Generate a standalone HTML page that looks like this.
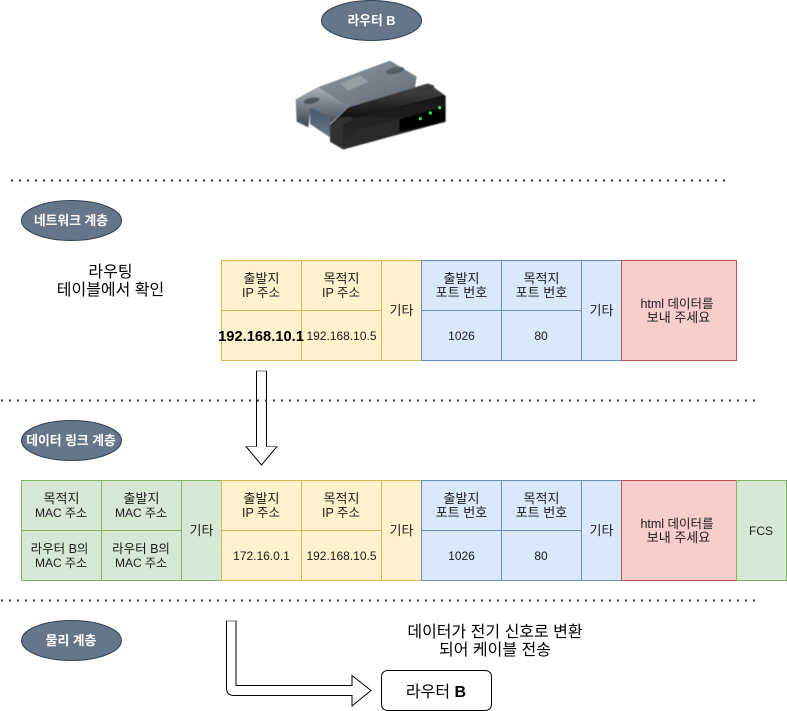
<!DOCTYPE html>
<html><head><meta charset="utf-8">
<style>
html,body{margin:0;padding:0;background:#fff}
svg{display:block}
text{font-family:"Liberation Sans","Noto Sans CJK KR",sans-serif;font-size:12px;fill:#1a1a1a;text-anchor:middle}
.k{font-size:13px}
.m{font-size:12.5px}
.w{fill:#fff;font-weight:bold;font-size:12.8px}
.b{font-size:16px;fill:#000}
</style></head>
<body>
<svg width="787" height="711" viewBox="0 0 787 711" xmlns="http://www.w3.org/2000/svg">
<defs>
<linearGradient id="g1" x1="0" y1="0" x2="1" y2="1"><stop offset="0" stop-color="#8d96a2"/><stop offset="1" stop-color="#646b75"/></linearGradient>
<linearGradient id="g2" x1="0" y1="0" x2="0" y2="1"><stop offset="0" stop-color="#aab0b8"/><stop offset=".4" stop-color="#7d8590"/><stop offset="1" stop-color="#3e444c"/></linearGradient>
<linearGradient id="g3" x1="0" y1="0" x2="0" y2="1"><stop offset="0" stop-color="#4c4c4c"/><stop offset="1" stop-color="#0c0c0c"/></linearGradient>
<linearGradient id="g4" x1="0" y1="0" x2="0" y2="1"><stop offset="0" stop-color="#161616"/><stop offset="1" stop-color="#2e2e2e"/></linearGradient>
<linearGradient id="g5" x1="0" y1="0" x2="0" y2="1"><stop offset="0" stop-color="#46586c"/><stop offset="1" stop-color="#6a7684"/></linearGradient>
<filter id="bl" x="-5%" y="-5%" width="110%" height="110%"><feGaussianBlur stdDeviation="1.5"/></filter>
</defs>

<!-- ellipses -->
<g fill="#647687" stroke="#314354">
<ellipse cx="371.5" cy="20.5" rx="50" ry="20"/>
<ellipse cx="71.5" cy="220.5" rx="50" ry="20"/>
<ellipse cx="71.5" cy="440.5" rx="50" ry="20"/>
<ellipse cx="71.5" cy="640.5" rx="50" ry="20"/>
</g>
<text class="w" x="371.5" y="25">라우터 B</text>
<text class="w" x="71" y="225">네트워크 계층</text>
<text class="w" x="71" y="445">데이터 링크 계층</text>
<text class="w" x="71" y="645">물리 계층</text>

<!-- router -->
<g transform="translate(280 0) scale(.3333)">
<g filter="url(#bl)">
<polygon points="47,298 112,262 205,322 150,372 92,322 85,382 50,365" fill="url(#g2)"/>
<polygon points="90,322 150,352 150,412 90,372" fill="url(#g5)"/>
<ellipse cx="95" cy="302" rx="24" ry="9" fill="#4f565f" transform="rotate(-12 95 302)"/>
<polygon points="113,262 330,182 410,230 405,262 205,322" fill="url(#g1)"/>
<polygon points="180,250 240,226 265,245 205,272" fill="#989ea5"/>
<ellipse cx="345" cy="212" rx="28" ry="10" fill="#565c64" transform="rotate(-12 345 212)"/>
<polygon points="150,375 205,322 445,250 497,288 497,365 190,448 150,425" fill="#141414"/>
<polygon points="205,322 445,250 492,285 190,362" fill="url(#g3)"/>
<polygon points="150,375 190,362 190,448 150,425" fill="#303030"/>
<polygon points="190,362 495,290 497,365 190,448" fill="url(#g4)"/>
<polygon points="225,392 358,358 358,392 225,428" fill="#2c2c2c"/>
<polygon points="358,358 495,320 495,366 358,396" fill="#060606"/>
<ellipse cx="190" cy="362" rx="28" ry="10" fill="#303030" transform="rotate(-12 190 362)"/>
<ellipse cx="435" cy="265" rx="28" ry="10" fill="#383838" transform="rotate(-12 435 265)"/>
</g>
<circle cx="421" cy="356" r="5" fill="#3fdc4a"/>
<circle cx="451" cy="339" r="5" fill="#3fdc4a"/>
<circle cx="479" cy="323" r="5" fill="#3fdc4a"/>
</g>

<text class="b" x="110.5" y="277">라우팅</text>
<text class="b" x="110.5" y="295">테이블에서 확인</text>

<!-- Table 1 -->
<g fill="#fff2cc" stroke="#d6b656">
<rect x="221.5" y="260.5" width="80" height="50"/><rect x="301.5" y="260.5" width="80" height="50"/>
<rect x="221.5" y="310.5" width="80" height="50"/><rect x="301.5" y="310.5" width="80" height="50"/>
<rect x="381.5" y="260.5" width="40" height="100"/>
</g>
<g fill="#dae8fc" stroke="#6c8ebf">
<rect x="421.5" y="260.5" width="80" height="50"/><rect x="501.5" y="260.5" width="80" height="50"/>
<rect x="421.5" y="310.5" width="80" height="50"/><rect x="501.5" y="310.5" width="80" height="50"/>
<rect x="581.5" y="260.5" width="40" height="100"/>
</g>
<rect x="621.5" y="260.5" width="115" height="100" fill="#f8cecc" stroke="#b85450"/>
<text class="k" x="261.5" y="283">출발지</text><text class="m" x="261" y="297">IP 주소</text>
<text class="k" x="341.5" y="283">목적지</text><text class="m" x="341" y="297">IP 주소</text>
<text x="261" y="341" style="font-size:14.7px;font-weight:bold;fill:#000">192.168.10.1</text>
<text x="341.5" y="340">192.168.10.5</text>
<text class="k" x="401.5" y="315">기타</text>
<text class="k" x="461.5" y="283">출발지</text><text class="k" x="461.5" y="297">포트 번호</text>
<text class="k" x="541.5" y="283">목적지</text><text class="k" x="541.5" y="297">포트 번호</text>
<text x="461.5" y="340">1026</text><text x="541" y="340">80</text>
<text class="k" x="601.5" y="315">기타</text>
<text class="m" x="677" y="308">html 데이터를</text><text class="k" x="678.5" y="322">보내 주세요</text>

<!-- Table 2 -->
<g fill="#d5e8d4" stroke="#82b366">
<rect x="21.5" y="480.5" width="80" height="50"/><rect x="101.5" y="480.5" width="80" height="50"/>
<rect x="21.5" y="530.5" width="80" height="50"/><rect x="101.5" y="530.5" width="80" height="50"/>
<rect x="181.5" y="480.5" width="40" height="100"/>
</g>
<g fill="#fff2cc" stroke="#d6b656">
<rect x="221.5" y="480.5" width="80" height="50"/><rect x="301.5" y="480.5" width="80" height="50"/>
<rect x="221.5" y="530.5" width="80" height="50"/><rect x="301.5" y="530.5" width="80" height="50"/>
<rect x="381.5" y="480.5" width="40" height="100"/>
</g>
<g fill="#dae8fc" stroke="#6c8ebf">
<rect x="421.5" y="480.5" width="80" height="50"/><rect x="501.5" y="480.5" width="80" height="50"/>
<rect x="421.5" y="530.5" width="80" height="50"/><rect x="501.5" y="530.5" width="80" height="50"/>
<rect x="581.5" y="480.5" width="40" height="100"/>
</g>
<rect x="621.5" y="480.5" width="115" height="100" fill="#f8cecc" stroke="#b85450"/>
<rect x="736.5" y="480.5" width="50" height="100" fill="#d5e8d4" stroke="#82b366"/>
<text class="k" x="61.5" y="503">목적지</text><text x="61" y="517">MAC 주소</text>
<text class="k" x="141.5" y="503">출발지</text><text x="141" y="517">MAC 주소</text>
<text class="m" x="59.5" y="553">라우터 B의</text><text x="61" y="567">MAC 주소</text>
<text class="m" x="141" y="553">라우터 B의</text><text x="141" y="567">MAC 주소</text>
<text class="k" x="201.5" y="535">기타</text>
<text class="k" x="261.5" y="503">출발지</text><text class="m" x="261" y="517">IP 주소</text>
<text class="k" x="341.5" y="503">목적지</text><text class="m" x="341" y="517">IP 주소</text>
<text x="261.5" y="560">172.16.0.1</text><text x="341.5" y="560">192.168.10.5</text>
<text class="k" x="401.5" y="535">기타</text>
<text class="k" x="461.5" y="503">출발지</text><text class="k" x="461.5" y="517">포트 번호</text>
<text class="k" x="541.5" y="503">목적지</text><text class="k" x="541.5" y="517">포트 번호</text>
<text x="461.5" y="560">1026</text><text x="541" y="560">80</text>
<text class="k" x="601.5" y="535">기타</text>
<text class="m" x="677" y="528">html 데이터를</text><text class="k" x="678.5" y="542">보내 주세요</text>
<text x="761" y="535">FCS</text>

<!-- arrows -->
<path d="M256.5 371H266.5V446.5H277L261.5 465L246 446.5H256.5Z" fill="#fff" stroke="#000"/>
<path d="M226.5 621H236V685.5H352V675.5L371 690.5L352 706V695.5H234Q226.5 695.5 226.5 688Z" fill="#fff" stroke="#000"/>
<g stroke="#777" stroke-width="1">
<line x1="256.5" y1="371" x2="266.5" y2="371"/>
<line x1="246" y1="446.5" x2="256.5" y2="446.5"/>
<line x1="266.5" y1="446.5" x2="277" y2="446.5"/>
<line x1="226.5" y1="621" x2="236" y2="621"/>
</g>

<!-- dotted separators (drawn above the arrows) -->
<g stroke="#333" stroke-width="2" stroke-dasharray="2 6">
<line x1="11" y1="180.5" x2="727" y2="180.5"/>
<line x1="1" y1="400.5" x2="757" y2="400.5"/>
<line x1="1" y1="600.5" x2="757" y2="600.5"/>
</g>

<text class="b" x="495" y="637">데이터가 전기 신호로 변환</text>
<text class="b" x="495" y="655">되어 케이블 전송</text>

<rect x="381.5" y="670.5" width="110" height="40" rx="6" ry="6" fill="#fff" stroke="#000"/>
<text class="b" x="436" y="697">라우터 <tspan font-weight="bold">B</tspan></text>
</svg>
</body></html>
